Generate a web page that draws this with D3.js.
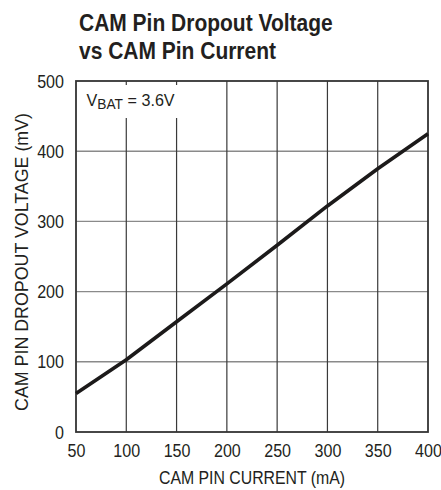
<!DOCTYPE html>
<html>
<head>
<meta charset="utf-8">
<script src="https://cdn.jsdelivr.net/npm/d3@7"></script>
<style>
  html, body { margin: 0; padding: 0; background: #fff; }
  svg { display: block; }
  text { font-family: "Liberation Sans", Arial, sans-serif; fill: #231f20; }
</style>
</head>
<body>
<svg id="chart" width="441" height="490"></svg>
<script>
// ---- data ----
const titleLines = ["CAM Pin Dropout Voltage", "vs CAM Pin Current"];
const xLabel = "CAM PIN CURRENT (mA)";
const yLabel = "CAM PIN DROPOUT VOLTAGE (mV)";
const xTicks = [50, 100, 150, 200, 250, 300, 350, 400];
const yTicks = [0, 100, 200, 300, 400, 500];
const currentMA = [50, 100, 150, 200, 250, 300, 350, 400];
const dropoutMV = [55, 103, 157, 211, 266, 322, 375, 425];

// ---- layout ----
const svg = d3.select("#chart");
const L = 76, R = 428, T = 81, B = 432;
const x = d3.scaleLinear().domain([50, 400]).range([L, R]);
const y = d3.scaleLinear().domain([0, 500]).range([B, T]);
const tickScale = 0.92;

// title
svg.append("g").selectAll("text").data(titleLines).join("text")
  .attr("transform", (d, i) => `translate(79,${31 + i * 28}) scale(0.85,1)`)
  .style("font-size", "24.7px").style("font-weight", "bold")
  .text(d => d);

// horizontal gridlines (gray)
svg.append("g").selectAll("line").data(yTicks.filter(v => v > 0 && v < 500)).join("line")
  .attr("x1", L).attr("x2", R).attr("y1", d => y(d)).attr("y2", d => y(d))
  .attr("stroke", "#8a8a8a").attr("stroke-width", 1.4);

// vertical gridlines (dark)
svg.append("g").selectAll("line").data(xTicks.filter(v => v > 50 && v < 400)).join("line")
  .attr("x1", d => x(d)).attr("x2", d => x(d)).attr("y1", T).attr("y2", B)
  .attr("stroke", "#3a3a3a").attr("stroke-width", 1.2);

// white box behind the condition label
svg.append("rect").attr("x", L + 1).attr("y", T + 4).attr("width", 107).attr("height", 33)
  .attr("fill", "#fff");

// frame
svg.append("rect").attr("x", L).attr("y", T).attr("width", R - L).attr("height", B - T)
  .attr("fill", "none").attr("stroke", "#333").attr("stroke-width", 1.8);

// data line
const line = d3.line().x((d, i) => x(currentMA[i])).y(d => y(d));
svg.append("path").datum(dropoutMV).attr("d", line)
  .attr("fill", "none").attr("stroke", "#1c1a1a").attr("stroke-width", 3.6)
  .attr("stroke-linejoin", "round");

// condition label
const cond = svg.append("text").attr("transform", `translate(86.5,106) scale(0.95,1)`)
  .style("font-size", "17px");
cond.append("tspan").text("V");
cond.append("tspan").attr("dy", 3).style("font-size", "14.5px").text("BAT");
cond.append("tspan").attr("dy", -3).text(" = 3.6V");

// x tick labels
const xAxis = d3.axisBottom(x).tickValues(xTicks).tickSize(0).tickPadding(0);
const gx = svg.append("g").attr("transform", `translate(0,${B})`).call(xAxis);
gx.select(".domain").remove();
gx.selectAll("text")
  .attr("y", null).attr("dy", null)
  .attr("transform", `translate(0,25) scale(${tickScale},1)`)
  .style("font-size", "17.5px").attr("fill", "#231f20");
gx.attr("font-family", null).attr("font-size", null);

// y tick labels
const yAxis = d3.axisLeft(y).tickValues(yTicks).tickSize(0).tickPadding(0);
const gy = svg.append("g").attr("transform", `translate(64,0)`).call(yAxis);
gy.select(".domain").remove();
gy.selectAll("text")
  .attr("x", null).attr("dy", "0.35em")
  .attr("transform", `scale(${tickScale},1)`)
  .style("font-size", "17.5px").attr("fill", "#231f20");
gy.attr("font-family", null).attr("font-size", null);

// axis titles
svg.append("text").attr("text-anchor", "middle")
  .attr("transform", `translate(${(L + R) / 2},484) scale(0.88,1)`)
  .style("font-size", "18px").text(xLabel);
svg.append("text").attr("text-anchor", "middle")
  .attr("transform", `translate(28,262) rotate(-90) scale(0.99,1)`)
  .style("font-size", "18px").text(yLabel);
</script>
</body>
</html>
